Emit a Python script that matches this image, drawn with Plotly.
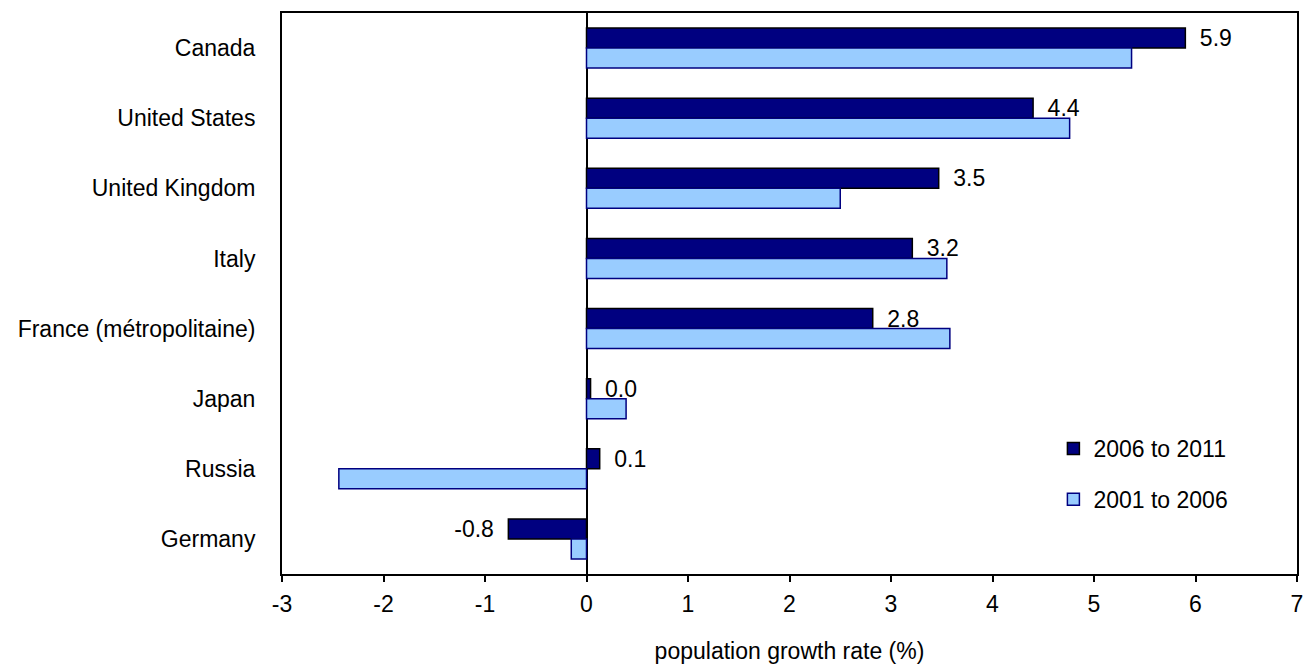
import plotly.graph_objects as go

countries = ["Canada", "United States", "United Kingdom", "Italy",
             "France (métropolitaine)", "Japan", "Russia", "Germany"]
growth_2006_2011 = [5.9, 4.4, 3.47, 3.21, 2.82, 0.04, 0.13, -0.77]
growth_2001_2006 = [5.37, 4.76, 2.5, 3.55, 3.58, 0.39, -2.44, -0.15]
x_ticks = [-3, -2, -1, 0, 1, 2, 3, 4, 5, 6, 7]

FONT = "Liberation Sans, Arial, Helvetica, sans-serif"
FS = 23


def value_label(v):
    # pad away from the bar end so the number sits a little clear of it
    return f"{v:.1f}\u2002" if v < 0 else f"\u2002{v:.1f}"


fig = go.Figure()
fig.add_trace(go.Bar(
    y=countries, x=growth_2006_2011, orientation="h", name="2006 to 2011",
    marker=dict(color="#000080", line=dict(color="#000000", width=1.5)),
    text=[value_label(v) for v in growth_2006_2011], textposition="outside",
    textfont=dict(size=FS, color="#000000"), cliponaxis=False,
    constraintext="none", legendgroup="a",
))
fig.add_trace(go.Bar(
    y=countries, x=growth_2001_2006, orientation="h", name="2001 to 2006",
    marker=dict(color="#99CCFF", line=dict(color="#000080", width=1.5)),
    legendgroup="b",
))

fig.update_layout(
    width=1309, height=664,
    margin=dict(l=282, r=12, t=13, b=90),
    paper_bgcolor="white", plot_bgcolor="white",
    font=dict(family=FONT, size=FS, color="#000000"),
    barmode="group", bargap=0.43, bargroupgap=0.0,
    showlegend=True,
    legend=dict(x=0.76, y=0.262, xanchor="left", yanchor="top",
                bgcolor="rgba(0,0,0,0)", tracegroupgap=18,
                font=dict(size=FS), itemwidth=30),
)
fig.update_xaxes(
    range=[-3, 7], tickmode="array", tickvals=x_ticks,
    ticktext=[str(t) for t in x_ticks], automargin=False,
    showgrid=False, zeroline=True, zerolinecolor="#000000", zerolinewidth=2,
    showline=True, linecolor="#000000", linewidth=2, mirror=True,
    ticks="outside", ticklen=6, tickwidth=2, tickcolor="#000000",
    ticklabelstandoff=2,
    title=dict(text="population growth rate (%)", standoff=33,
               font=dict(size=FS)),
)
fig.update_yaxes(
    autorange="reversed", showgrid=False, automargin=False,
    showline=True, linecolor="#000000", linewidth=2, mirror=True,
    ticks="", ticklabelstandoff=20,
)

fig.write_html("out.html")
